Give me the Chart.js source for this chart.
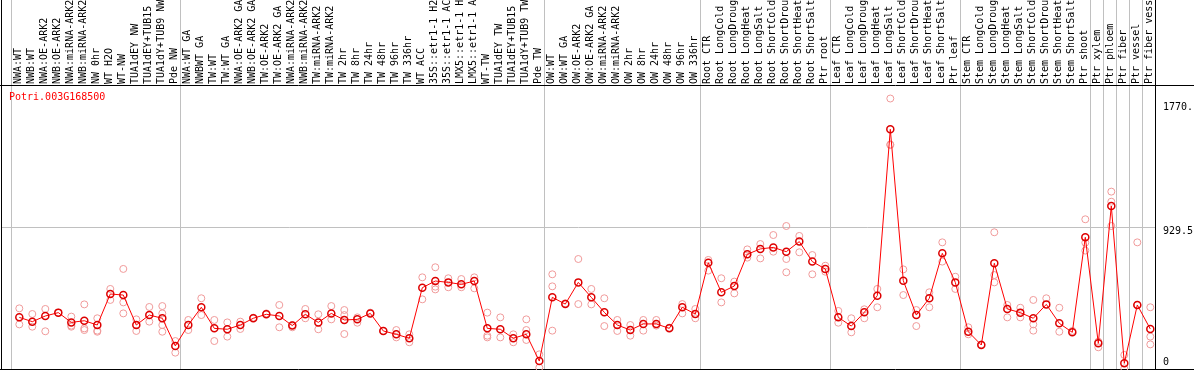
<!DOCTYPE html>
<html><head><meta charset="utf-8">
<script src="https://cdn.jsdelivr.net/npm/chart.js@4"></script>
<style>html,body{margin:0;padding:0;background:#fff;overflow:hidden}canvas{display:block}</style>
</head><body>
<canvas id="c" width="1194" height="370"></canvas>
<script>
const geneId = 'Potri.003G168500';
const categories = ['NWA:WT','NWB:WT','NWA:OE-ARK2','NWB:OE-ARK2','NWA:miRNA-ARK2','NWB:miRNA-ARK2','NW 0hr','WT H2O','WT-NW','TUA1dEY NW','TUA1dEY+TUB15 NW','TUA1dY+TUB9 NW','Pde NW','NWA:WT GA','NWBWT GA','TW:WT','TW:WT GA','NWA:OE-ARK2 GA','NWB:OE-ARK2 GA','TW:OE-ARK2','TW:OE-ARK2 GA','NWA:miRNA-ARK2 GA','NWB:miRNA-ARK2 GA','TW:miRNA-ARK2','TW:miRNA-ARK2 GA','TW 2hr','TW 8hr','TW 24hr','TW 48hr','TW 96hr','TW 336hr','WT ACC','35S::etr1-1 H2O','35S::etr1-1 ACC','LMX5::etr1-1 H2O','LMX5::etr1-1 ACC','WT-TW','TUA1dEY TW','TUA1dEY+TUB15 TW','TUA1dY+TUB9 TW','Pde TW','OW:WT','OW:WT GA','OW:OE-ARK2','OW:OE-ARK2 GA','OW:miRNA-ARK2','OW:miRNA-ARK2 GA','OW 2hr','OW 8hr','OW 24hr','OW 48hr','OW 96hr','OW 336hr','Root CTR','Root LongCold','Root LongDrought','Root LongHeat','Root LongSalt','Root ShortCold','Root ShortDrought','Root ShortHeat','Root ShortSalt','Ptr root','Leaf CTR','Leaf LongCold','Leaf LongDrought','Leaf LongHeat','Leaf LongSalt','Leaf ShortCold','Leaf ShortDrought','Leaf ShortHeat','Leaf ShortSalt','Ptr leaf','Stem CTR','Stem LongCold','Stem LongDrought','Stem LongHeat','Stem LongSalt','Stem ShortCold','Stem ShortDrought','Stem ShortHeat','Stem ShortSalt','Ptr shoot','Ptr xylem','Ptr phloem','Ptr fiber','Ptr vessel','Ptr fiber vessel'];
const means = [338,310,347,369,305,316,288,491,484,288,
  353,332,151,288,404,266,260,288,332,358,
  347,284,358,305,364,321,325,364,249,227,
  201,532,576,567,554,576,266,260,201,227,
  52,469,425,567,469,371,288,255,295,295,
  266,404,360,696,502,543,751,786,796,768,
  834,703,655,338,281,371,480,1569,578,353,
  463,757,567,244,157,692,393,369,332,423,
  299,240,862,168,1067,37,419,262];
const replicates = [[397,292],[360,277],[393,247],[369],[343,277,284],[423,266,255],[332,251,244],[524,452],[655,436,364],[325,249],
  [406,310],[412,364,288,244],[183,107],[321,255],[463,353],[321,183],[305,212],[310,262],[336],[364],
  [419,273],[288,273],[393,332],[358,260],[412,325],[386,353,229],[338,303],[369],[249],[255,207],
  [227,175],[600,456],[666,539,521],[594,535],[589,535],[600,528],[369,218,207],[338,207],[227,175],[325,255,190],
  [96,9],[620,541,251],[430],[720,425],[524,423],[463,281],[321,249],[288,218],[321,251],[321,284],
  [271],[425,364],[393,332],[714,644],[594,436],[572,495],[783,729],[818,724],[877,768],[936,720,633],
  [871,764],[746,620],[676,637],[380,303],[332,240],[391,332],[524,404],[1770.5,1466,1470],[652,484],[386,281],
  [502,404],[829,703],[604,524],[273,227],[161],[895,615,567],[419,338],[401,338],[452,292,251],[463],
  [401,244],[249],[980,827,775],[179,142],[1161,1095,936],[92,4],[829,419],[404,212,161]];
const yTickValues = [0, 929.5, 1770.5];
const yTickLabels = ['0', '929.5', '1770.'];
const groupEnds = [-1, 12, 40, 52, 62, 72, 82, 83, 84, 85, 86];

const FONT = 'DejaVu Sans Mono';
const meanData = means.map((v, i) => ({x: i, y: v}));
const repData = replicates.flatMap((r, i) => r.map(v => ({x: i, y: v})));

const framePlugin = {
  id: 'frame',
  beforeDatasetsDraw(chart) {
    const {ctx, chartArea: a, scales: {x}} = chart;
    ctx.save();
    ctx.lineWidth = 1;
    ctx.strokeStyle = '#c0c0c0';
    groupEnds.forEach(g => {
      const px = Math.round(x.getPixelForValue(g + 5 / 13)) + 0.5;
      ctx.beginPath(); ctx.moveTo(px, 0); ctx.lineTo(px, a.bottom); ctx.stroke();
    });
    ctx.strokeStyle = '#000';
    ctx.beginPath();
    ctx.moveTo(0, a.top + 0.5); ctx.lineTo(chart.width, a.top + 0.5);
    ctx.moveTo(0, a.bottom + 0.5); ctx.lineTo(chart.width, a.bottom + 0.5);
    ctx.moveTo(a.left + 0.5, 0); ctx.lineTo(a.left + 0.5, a.bottom + 1);
    ctx.moveTo(a.right - 0.5, 0); ctx.lineTo(a.right - 0.5, a.bottom + 1);
    ctx.stroke();
    ctx.fillStyle = '#ff0000';
    ctx.font = '10px "' + FONT + '"';
    ctx.textBaseline = 'middle';
    ctx.textAlign = 'left';
    ctx.fillText(geneId, 9, 97.5);
    ctx.restore();
  }
};

new Chart(document.getElementById('c'), {
  type: 'line',
  data: {
    datasets: [
      {type: 'line', data: meanData, borderColor: '#ff0000', borderWidth: 1, tension: 0,
       pointRadius: 3.5, pointBorderColor: '#dd0000', pointBorderWidth: 1.5,
       pointBackgroundColor: 'rgba(0,0,0,0)', order: 0, clip: false},
      {type: 'scatter', data: repData, showLine: false, pointRadius: 3.5,
       pointBorderColor: '#f09a9a', pointBorderWidth: 1, pointBackgroundColor: 'rgba(0,0,0,0)',
       order: 1, clip: false}
    ]
  },
  options: {
    responsive: false, animation: false, devicePixelRatio: 1,
    layout: {autoPadding: false, padding: {left: 1, top: 0, right: 0, bottom: 1}},
    plugins: {legend: {display: false}, tooltip: {enabled: false}, title: {display: false}},
    scales: {
      x: {
        type: 'linear', position: 'top', min: -1.408, max: 87.438,
        afterBuildTicks: s => { s.ticks = categories.map((_, i) => ({value: i})); },
        afterFit: s => { s.height = 85; s.paddingLeft = 0; s.paddingRight = 0; s.paddingTop = 0; s.paddingBottom = 0; },
        grid: {display: false, drawTicks: false},
        border: {display: false},
        ticks: {autoSkip: false, minRotation: 90, maxRotation: 90, padding: 1, labelOffset: 11,
          font: {family: FONT, size: 10}, color: '#000',
          callback: (v, i) => categories[i]}
      },
      y: {
        position: 'right', min: 0, max: 1859,
        afterBuildTicks: s => { s.ticks = yTickValues.map(v => ({value: v})); },
        afterFit: s => { s.width = 38; s.paddingLeft = 0; s.paddingRight = 0; s.paddingTop = 0; s.paddingBottom = 0; },
        grid: {drawTicks: false, color: c => c.index === 1 ? '#c0c0c0' : 'rgba(0,0,0,0)'},
        border: {display: false},
        ticks: {padding: 7, labelOffset: 4.7, color: '#000',
          font: c => ({family: FONT, size: 10, lineHeight: c.index === 0 ? 2.34 : (c.index === 2 ? 0.86 : 1.2)}),
          callback: (v, i) => i === 0 ? [yTickLabels[0], ''] : (i === 2 ? ['', yTickLabels[2]] : yTickLabels[i])}
      }
    }
  },
  plugins: [framePlugin]
});
</script>
</body></html>
